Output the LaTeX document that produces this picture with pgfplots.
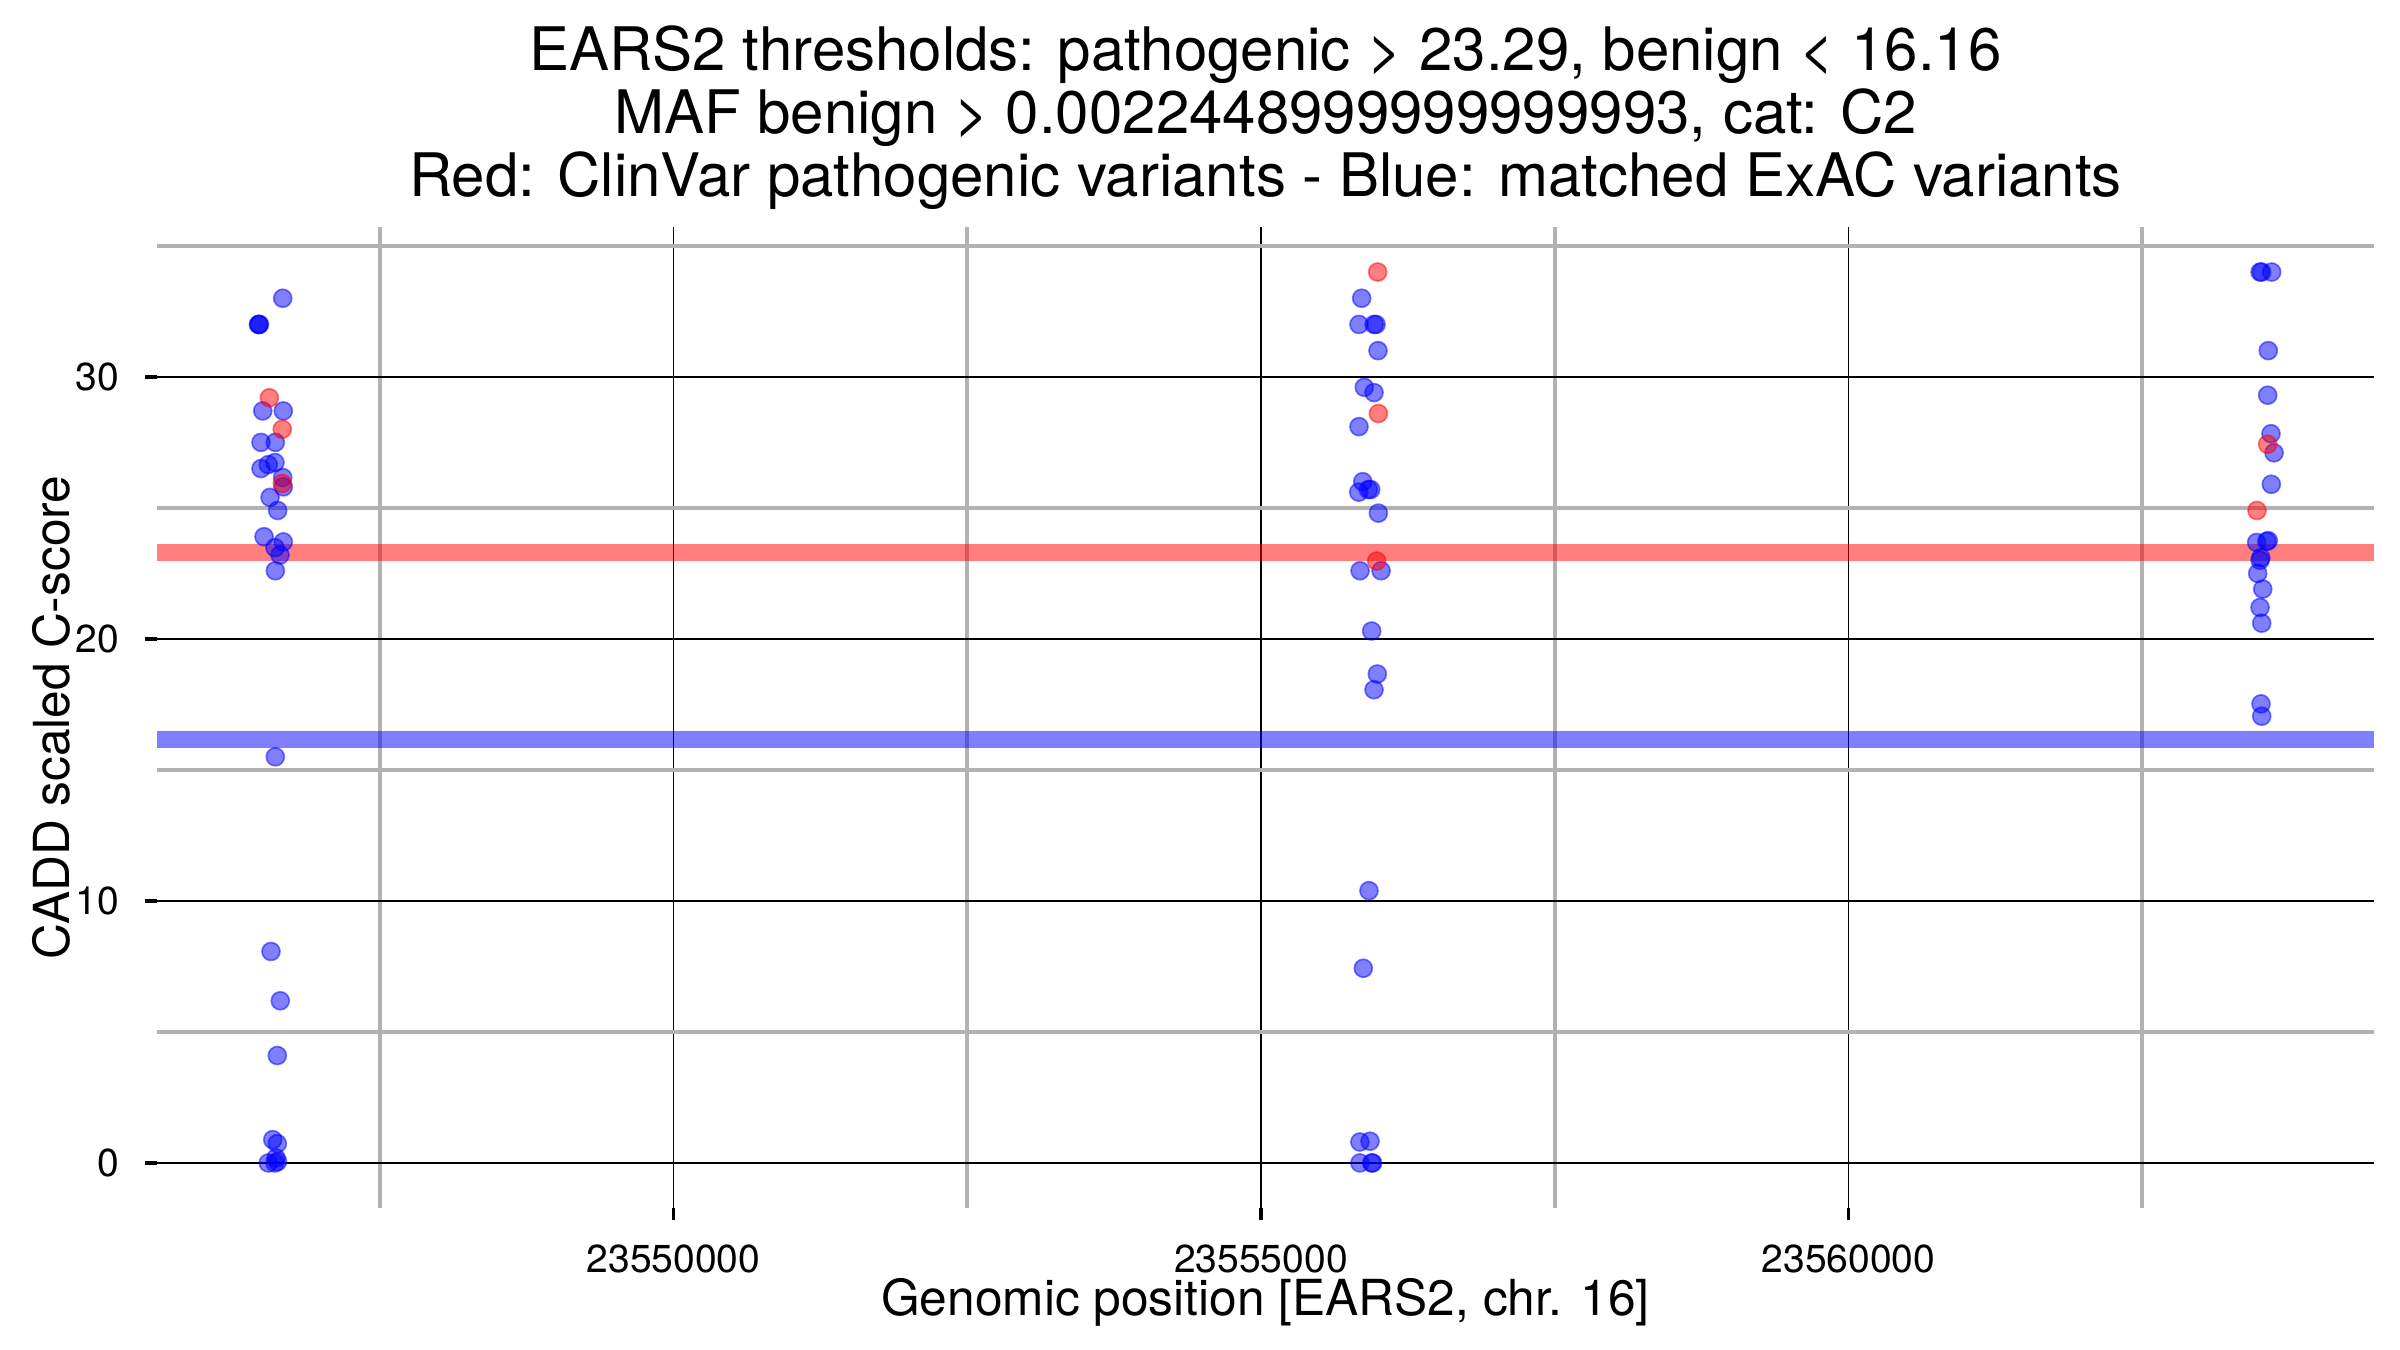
\documentclass[border=0pt]{standalone}
\usepackage{fontspec}
\setmainfont{TeX Gyre Heros}
\usepackage{pgfplots}
\usepackage{pgfplotstable}
\pgfplotsset{compat=1.18}

% ExAC (blue) and ClinVar (red) variants: position, CADD score
\pgfplotstableread{
pos score
23546674 33.0
23546470 32.0
23546476 32.0
23546468 32.0
23546504 28.7
23546679 28.7
23546489 27.5
23546611 27.5
23546608 26.73
23546551 26.65
23546489 26.5
23546674 26.16
23546679 25.8
23546566 25.4
23546631 24.9
23546515 23.9
23546679 23.7
23546608 23.48
23546651 23.2
23546611 22.6
23546611 15.5
23546574 8.07
23546653 6.19
23546628 4.1
23546589 0.89
23546628 0.74
23546617 0.19
23546551 0.0
23546608 0.0
23546630 0.05
23555857 33.0
23555834 32.0
23555979 32.0
23555962 32.0
23555996 31.0
23555879 29.6
23555962 29.4
23555834 28.1
23555866 26.0
23555832 25.6
23555913 25.7
23555934 25.7
23555999 24.8
23555843 22.6
23556022 22.6
23555942 20.3
23555990 18.66
23555962 18.06
23555919 10.39
23555871 7.43
23555842 0.8
23555928 0.83
23555842 0.0
23555942 0.0
23555950 0.0
23563517 34.0
23563503 34.0
23563602 34.0
23563573 31.0
23563568 29.3
23563596 27.83
23563622 27.1
23563599 25.9
23563474 23.68
23563560 23.72
23563573 23.75
23563503 23.0
23563510 23.1
23563483 22.5
23563526 21.9
23563503 21.2
23563517 20.6
23563511 17.52
23563517 17.05
}\exac

\pgfplotstableread{
pos score
23546560 29.2
23546670 28.0
23546670 25.93
23555993 34.0
23555999 28.6
23555985 22.97
23563568 27.43
23563477 24.9
}\clinvar

\begin{document}
\begin{tikzpicture}
\useasboundingbox (0,0) rectangle (720bp,405bp);
\begin{axis}[
    name=ax,
    at={(47.1bp,42.75bp)}, anchor=south west,
    scale only axis, width=665.1bp, height=294bp,
    xmin=23545604, xmax=23564473,
    ymin=-1.7, ymax=35.7,
    axis line style={draw=none},
    xtick={23550000,23555000,23560000},
    xticklabels={23550000,23555000,23560000},
    scaled x ticks=false,
    minor xtick={23547500,23552500,23557500,23562500},
    ytick={0,10,20,30},
    minor ytick={5,15,25,35},
    grid=both,
    major grid style={black, line width=0.4bp},
    minor grid style={black!30, line width=1.2bp},
    tick pos=left,
    tick align=outside,
    major tick length=3.6bp,
    minor tick length=0pt,
    tick style={black, line width=1bp},
    ticklabel style={font=\fontsize{11.7bp}{14bp}\selectfont, inner sep=0pt},
    /pgf/number format/assume math mode=true,
    xticklabel style={anchor=base, yshift=-15.75bp},
    yticklabel style={anchor=east, xshift=-7.5bp},
    xlabel={Genomic position [EARS2, chr. 16]},
    ylabel={CADD scaled C-score},
    label style={font=\fontsize{14.9bp}{17bp}\selectfont, inner sep=0pt},
    xlabel style={at={(axis description cs:0.5,0)}, anchor=base, yshift=-32.25bp},
    ylabel style={at={(axis description cs:0,0.5)}, anchor=base, yshift=26.2bp},
    every axis plot/.append style={line cap=butt},
]
\addplot[no marks, draw=red, draw opacity=0.5, line width=5.25bp]
    coordinates {(23545604,23.29) (23564473,23.29)};
\addplot[no marks, draw=blue, draw opacity=0.5, line width=5.25bp]
    coordinates {(23545604,16.16) (23564473,16.16)};
\addplot[only marks, mark=*, mark size=2.7bp,
    mark options={draw=blue, fill=blue, draw opacity=0.5, fill opacity=0.5, line width=0.5bp}]
    table[x=pos, y=score] {\exac};
\addplot[only marks, mark=*, mark size=2.7bp,
    mark options={draw=red, fill=red, draw opacity=0.5, fill opacity=0.5, line width=0.5bp}]
    table[x=pos, y=score] {\clinvar};
\end{axis}
\begin{scope}[every node/.style={font=\fontsize{18bp}{20bp}\selectfont, inner sep=0pt, anchor=base}]
\node at ([yshift=47bp]ax.north) {EARS2 thresholds: pathogenic > 23.29, benign < 16.16};
\node at ([yshift=28.1bp]ax.north) {MAF benign > 0.0022448999999999993, cat: C2};
\node at ([yshift=9.2bp]ax.north) {Red: ClinVar pathogenic variants - Blue: matched ExAC variants};
\end{scope}
\end{tikzpicture}
\end{document}
